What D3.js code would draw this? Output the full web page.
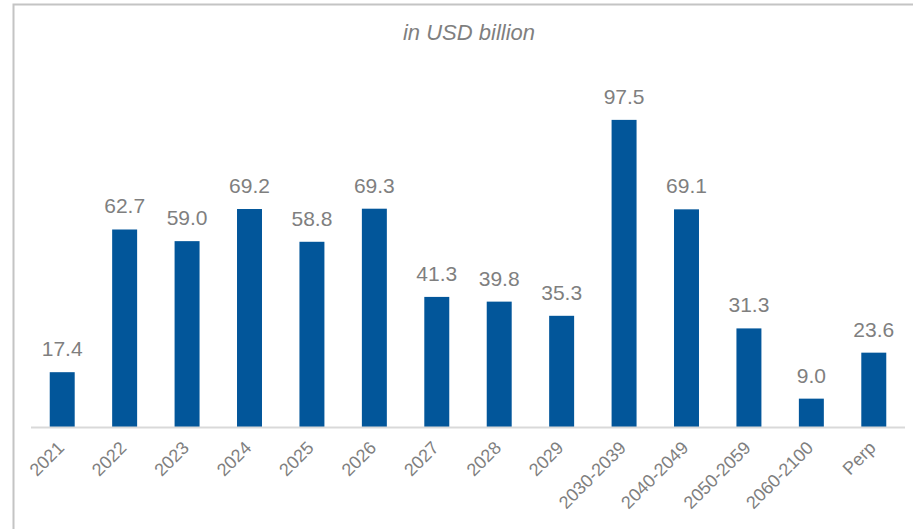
<!DOCTYPE html>
<html>
<head>
<meta charset="utf-8">
<script src="https://cdn.jsdelivr.net/npm/d3@7"></script>
<style>
  html, body { margin: 0; padding: 0; background: #fff; }
  svg { display: block; font-family: "Liberation Sans", Arial, sans-serif; }
</style>
</head>
<body>
<svg id="chart" width="913" height="529"></svg>
<script>
// Maturity buckets and outstanding amounts (USD billion)
const categories = ["2021", "2022", "2023", "2024", "2025", "2026", "2027", "2028", "2029",
  "2030-2039", "2040-2049", "2050-2059", "2060-2100", "Perp"];
const amounts = [17.4, 62.7, 59.0, 69.2, 58.8, 69.3, 41.3, 39.8, 35.3, 97.5, 69.1, 31.3, 9.0, 23.6];
const unitLabel = "in USD billion";

const data = categories.map((c, i) => ({ cat: c, value: amounts[i] }));

const svg = d3.select("#chart");
const W = 913, H = 529;
const plot = { left: 31, right: 905, top: 112, bottom: 427 };

// frame
svg.append("path")
  .attr("d", `M13.5,${H} L13.5,4.5 L${W},4.5`)
  .attr("fill", "none")
  .attr("stroke", "#c4c4c4")
  .attr("stroke-width", 2);

const x = d3.scaleBand()
  .domain(categories)
  .range([plot.left, plot.right])
  .paddingInner(0.6)
  .paddingOuter(0.3);

const y = d3.scaleLinear()
  .domain([0, 100])
  .range([plot.bottom, plot.top]);

// title
svg.append("text")
  .attr("x", 469)
  .attr("y", 40)
  .attr("text-anchor", "middle")
  .attr("font-style", "italic")
  .attr("font-size", 22)
  .attr("fill", "#7f7f7f")
  .text(unitLabel);

// bars
svg.append("g").selectAll("rect")
  .data(data)
  .join("rect")
  .attr("x", d => x(d.cat))
  .attr("y", d => y(d.value))
  .attr("width", x.bandwidth())
  .attr("height", d => y(0) - y(d.value))
  .attr("fill", "#02569a");

// value labels
svg.append("g").selectAll("text")
  .data(data)
  .join("text")
  .attr("x", d => x(d.cat) + x.bandwidth() / 2)
  .attr("y", d => y(d.value) - 16)
  .attr("text-anchor", "middle")
  .attr("font-size", 21)
  .attr("fill", "#7f7f7f")
  .text(d => d.value.toFixed(1));

// category axis
const xAxis = d3.axisBottom(x).tickSize(0).tickPadding(0);
const gx = svg.append("g")
  .attr("transform", `translate(0,${plot.bottom})`)
  .attr("font-size", 18)
  .attr("font-family", null)
  .call(xAxis);
gx.select(".domain")
  .attr("d", `M${plot.left},0.5H${plot.right}`)
  .attr("stroke", "#d9d9d9")
  .attr("stroke-width", 2);
gx.selectAll(".tick text")
  .style("font-size", "18px")
  .attr("fill", "#7f7f7f")
  .attr("text-anchor", "end")
  .attr("dy", null)
  .attr("y", null)
  .attr("transform", "translate(3,22) rotate(-45)");
</script>
</body>
</html>
